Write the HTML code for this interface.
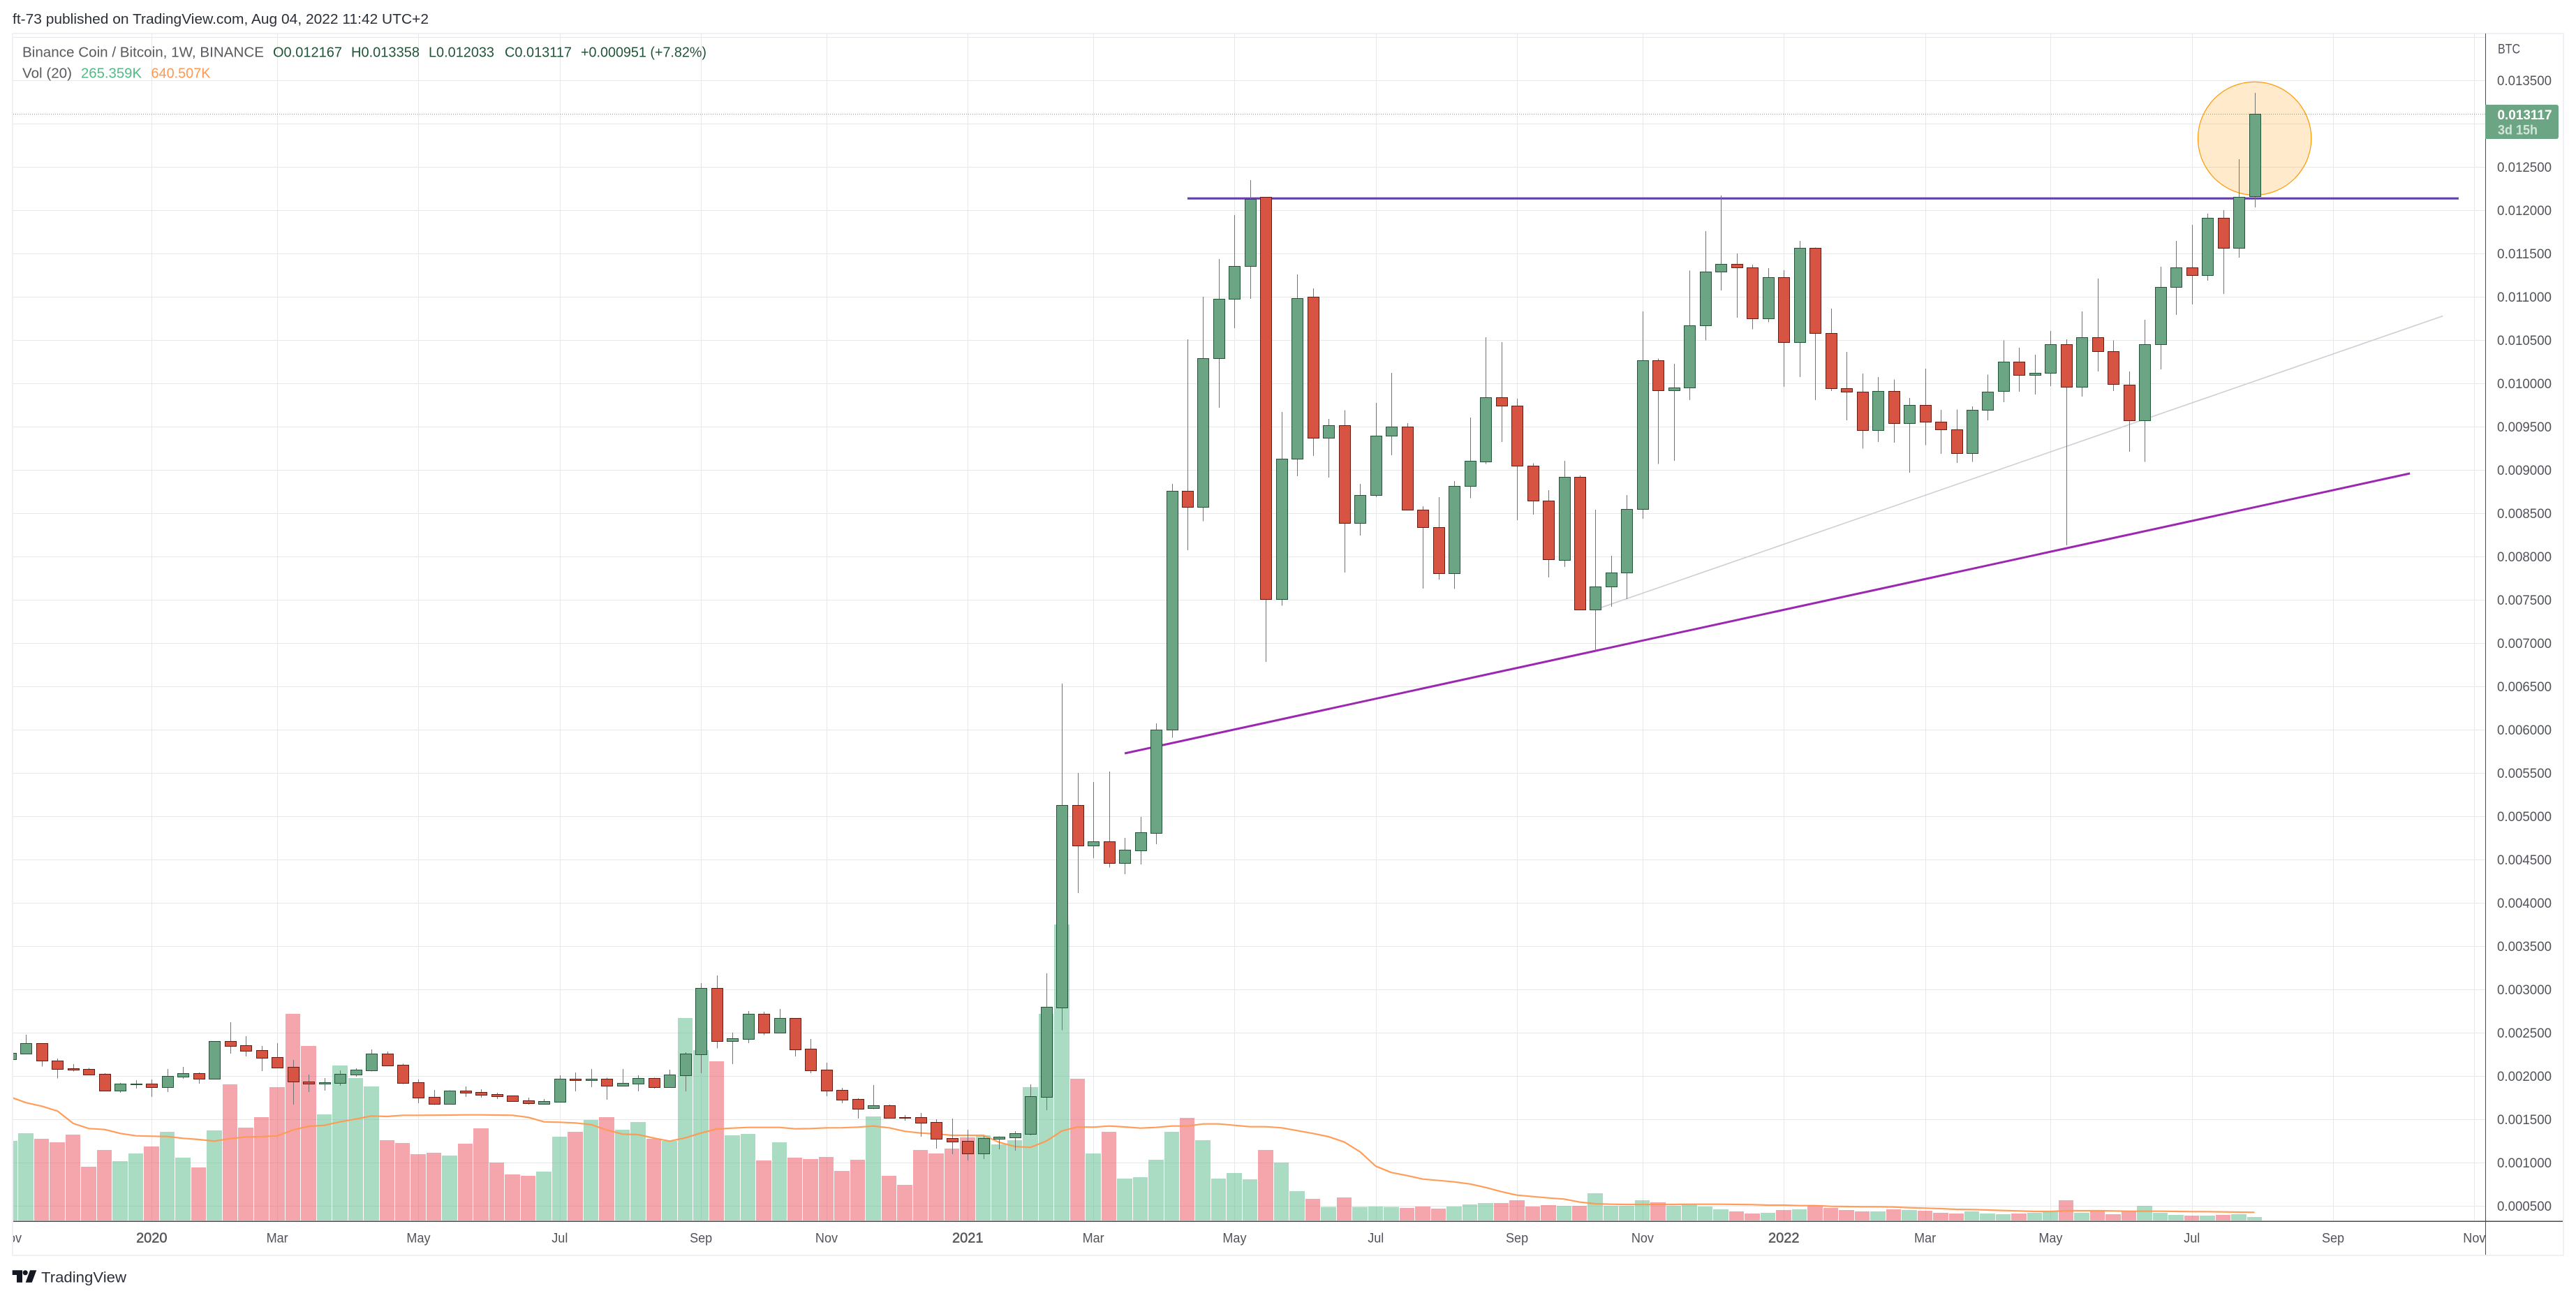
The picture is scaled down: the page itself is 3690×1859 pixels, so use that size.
<!DOCTYPE html>
<html lang="en">
<head>
<meta charset="utf-8">
<title>Binance Coin / Bitcoin, 1W</title>
<style>
html,body{margin:0;padding:0;background:#fff;width:3690px;height:1859px;overflow:hidden}
svg{display:block;font-family:"Liberation Sans",sans-serif}
</style>
</head>
<body>
<svg id="chart" xmlns="http://www.w3.org/2000/svg" width="3690" height="1859" viewBox="0 0 3690 1859">
  <defs>
    <clipPath id="pane-clip"><rect x="19" y="49" width="3541" height="1700"/></clipPath>
    <clipPath id="time-clip"><rect x="19" y="1750" width="3541" height="47"/></clipPath>
  </defs>
  <text x="18" y="34" font-size="20" fill="#2a2e39" textLength="596" lengthAdjust="spacingAndGlyphs">ft-73 published on TradingView.com, Aug 04, 2022 11:42 UTC+2</text>
  <rect x="18" y="48" width="3654" height="1750" fill="none" stroke="#f0f0f6" stroke-width="2"/>
  <g id="grid" shape-rendering="crispEdges"></g>
  <g clip-path="url(#pane-clip)">
    <g id="volume" shape-rendering="crispEdges"></g>
    <g id="drawings"></g>
    <g id="volma"></g>
    <g id="candles" shape-rendering="crispEdges"></g>
  </g>
  <g id="time-labels" clip-path="url(#time-clip)"></g>
  <g id="price-labels"></g>
  <rect x="19" y="1748.5" width="3652" height="1.5" fill="#4a4a4e"/>
  <rect x="3560" y="48" width="1" height="1749" fill="#4a4a4e"/>
  <text x="3578" y="76.7" font-size="19.5" fill="#50535a" textLength="32" lengthAdjust="spacingAndGlyphs">BTC</text>
  <path d="M3560 150H3662a3 3 0 0 1 3 3V196a3 3 0 0 1 -3 3H3560Z" fill="#6ba583"/>
  <text x="3577.5" y="171" font-size="19" font-weight="bold" fill="#fff" textLength="78" lengthAdjust="spacingAndGlyphs">0.013117</text>
  <text x="3578" y="192.7" font-size="19" font-weight="bold" fill="#d3e4da" textLength="57" lengthAdjust="spacingAndGlyphs">3d 15h</text>

  <g font-size="20">
    <text x="32" y="81.7" fill="#5a5a5e" textLength="346" lengthAdjust="spacingAndGlyphs">Binance Coin / Bitcoin, 1W, BINANCE</text>
    <text x="391" y="81.7" fill="#225437" textLength="99" lengthAdjust="spacingAndGlyphs">O0.012167</text>
    <text x="503" y="81.7" fill="#225437" textLength="98" lengthAdjust="spacingAndGlyphs">H0.013358</text>
    <text x="614" y="81.7" fill="#225437" textLength="94" lengthAdjust="spacingAndGlyphs">L0.012033</text>
    <text x="723" y="81.7" fill="#225437" textLength="96" lengthAdjust="spacingAndGlyphs">C0.013117</text>
    <text x="832" y="81.7" fill="#225437" textLength="180" lengthAdjust="spacingAndGlyphs">+0.000951 (+7.82%)</text>
  </g>
  <g font-size="20">
    <text x="32" y="111.7" fill="#5a5a5e" textLength="71" lengthAdjust="spacingAndGlyphs">Vol (20)</text>
    <text x="116" y="111.7" fill="#53b987" textLength="87" lengthAdjust="spacingAndGlyphs">265.359K</text>
    <text x="216.5" y="111.7" fill="#ff9850" textLength="85" lengthAdjust="spacingAndGlyphs">640.507K</text>
  </g>

  <g>
    <path d="M17.7 1819.3H32V1836.7H24V1826H17.7Z" fill="#131722"/>
    <circle cx="36.2" cy="1822.8" r="3.6" fill="#131722"/>
    <path d="M43 1819.3H52.3L45.7 1836.7H36.7Z" fill="#131722"/>
    <text x="59" y="1836.7" font-size="21.5" fill="#2a2e39" textLength="122" lengthAdjust="spacingAndGlyphs">TradingView</text>
  </g>
</svg>

<script>
// Prices are in units of 0.000001 BTC, one entry per weekly bar.
const opens = [2193,2258,2379,2177,2091,2080,2024,1836,1906,1911,
1876,1997,2032,1973,2403,2355,2298,2217,2105,1935,
1916,1924,2021,2070,2258,2129,1927,1758,1682,1830,
1814,1790,1774,1717,1682,1707,1970,1957,1967,1892,
1916,1975,1876,2013,2255,3016,2408,2432,2717,2505,
2669,2314,2072,1838,1734,1634,1661,1527,1524,1467,
1282,1250,1110,1279,1296,1336,1763,2795,5135,4660,
4709,4465,4610,4811,5999,8764,8571,10291,10982,11360,
12154,7513,9134,11002,9377,9521,8386,8715,9394,9505,
8546,8344,7805,8814,9102,9838,9748,9048,8645,7966,
8925,7386,7653,7814,8554,10266,9924,9957,10669,11290,
11385,11344,10755,11225,10476,11570,10587,9949,9908,9459,
9916,9546,9756,9562,9468,9192,9698,9916,10249,10101,
10126,10451,9966,10537,10377,9990,9579,10451,11118,11344,
11249,11912,11570,12167];
const highs = [2306,2478,2379,2204,2139,2096,2035,1922,1954,1962,
2083,2107,2043,2403,2623,2462,2349,2381,2188,2018,
1978,2067,2091,2309,2285,2145,1962,1841,1838,1881,
1849,1809,1774,1752,1736,2010,2043,2083,1984,2083,
2010,1984,2075,2277,3075,3164,2502,2752,2744,2777,
2669,2430,2156,1865,1744,1898,1672,1551,1575,1502,
1510,1381,1309,1306,1365,1906,3188,6536,5502,5397,
5518,4752,4993,6076,8842,10509,11002,11439,11945,12348,
12154,9673,11262,11101,9591,9690,8842,9776,10122,9542,
8583,8686,8875,9608,10533,10480,9826,9081,8768,9106,
8937,8542,8011,8711,10834,10287,10229,11303,11760,12171,
11504,11373,11332,11307,11648,11570,10867,10365,10114,10077,
10048,9834,10171,9694,9702,9735,10105,10500,10414,10332,
10607,10509,10834,11212,10500,10138,10735,11348,11648,11834,
11961,12002,12591,13358];
const lows = [2172,2258,2110,1973,2053,2010,1828,1809,1857,1760,
1817,1970,1914,1965,2260,2228,2059,2094,1672,1817,
1833,1890,1994,2053,2118,1908,1688,1666,1674,1760,
1752,1736,1715,1672,1682,1699,1825,1873,1728,1884,
1825,1857,1868,1825,2035,2320,2139,2381,2473,2505,
2228,2035,1769,1688,1510,1618,1518,1486,1301,1164,
1099,1027,1043,1156,1139,1317,1607,2530,4116,4518,
4410,4332,4447,4678,5910,8077,8410,9719,10640,10978,
6785,7435,8929,9163,8912,7818,8246,8686,9172,8546,
7633,7736,7628,8674,9069,9324,8423,8488,7760,7880,
7386,6908,7423,7509,8439,9069,9106,9809,10500,11076,
10760,10628,10710,9961,10077,9809,9912,9575,9250,9324,
9315,8970,9287,9188,9085,9097,9575,9785,9904,9875,
9970,8131,9850,10138,9912,9213,9097,10163,10793,10912,
11188,11035,11455,12033];
const closes = [2266,2379,2177,2086,2078,2021,1836,1911,1911,1876,
2000,2032,1973,2403,2352,2295,2215,2102,1941,1916,
1927,2024,2072,2258,2126,1924,1755,1682,1830,1812,
1787,1771,1715,1691,1709,1967,1957,1970,1892,1919,
1975,1876,2016,2258,3016,2408,2435,2717,2505,2669,
2312,2070,1836,1731,1626,1661,1521,1521,1465,1279,
1247,1110,1282,1298,1338,1766,2798,5135,4660,4709,
4465,4613,4814,5999,8764,8571,10291,10982,11360,12134,
7513,9134,10990,9377,9521,8386,8715,9394,9505,8546,
8344,7805,8814,9110,9838,9748,9048,8645,7974,8925,
7386,7653,7814,8554,10266,9924,9957,10669,11290,11385,
11344,10755,11225,10476,11570,10587,9949,9908,9459,9916,
9546,9756,9562,9468,9192,9698,9908,10249,10101,10126,
10451,9966,10537,10377,9998,9579,10451,11118,11344,11249,
11912,11570,12159,13117];
// Volume and its 20-bar average, in thousands.
const volumes = [6242,6844,6406,6132,6734,4216,5530,4654,5256,5804,
6953,4928,4161,7063,10676,7282,8103,10457,16206,13688,
8322,12155,11169,10512,6296,6077,5201,5311,5092,6023,
7227,4544,3614,3504,3833,6570,6953,7884,8103,7118,
7720,6406,6242,15878,13359,12483,6680,6789,4709,6132,
4928,4818,4982,3887,4763,8158,3504,2792,5530,5256,
5639,6515,6680,5968,6296,10457,16206,23214,11114,5256,
6953,3285,3395,4763,6953,8048,6296,3285,3723,3230,
5530,4544,2300,1697,1059,1807,1059,1095,1059,986,
1095,931,1095,1259,1369,1369,1588,1095,1205,1150,
1150,2135,1150,1150,1588,1424,1150,1259,1095,876,
712,548,602,821,876,1205,986,821,712,712,
876,821,767,602,548,712,548,493,548,602,
712,1588,602,767,493,712,1150,602,438,383,
383,438,493,265];
const volumeMA = [9673,9235,8961,8578,7610,7209,7136,6826,6643,6607,
6588,6442,6351,6223,6424,6552,6570,6643,7099,7391,
7464,7738,7957,8194,8158,8249,8249,8258,8267,8286,
8286,8267,8249,8085,7738,7702,7647,7519,7099,6771,
6734,6461,6223,6479,6862,7172,7245,7300,7300,7300,
7191,7209,7264,7272,7318,7410,7264,6990,6862,6789,
6680,6680,6680,6132,5804,5731,6223,7026,7337,7318,
7410,7337,7245,7300,7410,7410,7574,7574,7464,7355,
7355,7264,7045,6826,6570,6150,5384,4252,3760,3522,
3249,3139,3030,2865,2592,2263,1989,1880,1770,1679,
1442,1314,1278,1259,1259,1259,1259,1278,1278,1278,
1259,1241,1205,1205,1168,1168,1113,1095,1077,1077,
1059,1004,967,931,876,858,821,785,748,712,
712,767,767,767,748,730,730,730,712,694,
694,675,657,640.5];
// Axis ticks.
const priceTickValues = [14000,13500,13000,12500,12000,11500,11000,10500,10000,9500,9000,8500,8000,7500,7000,6500,6000,5500,5000,4500,4000,3500,3000,2500,2000,1500,1000,500];
const priceTickLabels = ["","0.013500","0.013000","0.012500","0.012000","0.011500","0.011000","0.010500","0.010000","0.009500","0.009000","0.008500","0.008000","0.007500","0.007000","0.006500","0.006000","0.005500","0.005000","0.004500","0.004000","0.003500","0.003000","0.002500","0.002000","0.001500","0.001000","0.000500"];
const timeTickBars = [0,9,17,26,35,44,52,61,69,78,87,96,104,113,122,130,139,148,157];
const timeTickLabels = ["Nov","2020","Mar","May","Jul","Sep","Nov","2021","Mar","May","Jul","Sep","Nov","2022","Mar","May","Jul","Sep","Nov"];
// Hand-drawn objects, in bar index and price units.
const resistanceBars = [75,156];
const resistancePrices = [12138,12138];
const supportBars = [71,152.9];
const supportPrices = [5728,8962];
const midlineBars = [101,155];
const midlinePrices = [7390,10781];
const highlightBar = 143;
const highlightBarRadius = 3.61;
const highlightPrices = [13484,12177];

function xScale(bar){ return 15 + 22.48 * bar; }
function yScale(price){ return 115.3 + (13500 - price) * 62 / 500; }
function volScale(vol){ return 1748 - vol / 54.75; }

const NS = 'http://www.w3.org/2000/svg';
function make(tag, attrs, parent){
  const node = document.createElementNS(NS, tag);
  for (const key in attrs) node.setAttribute(key, attrs[key]);
  parent.appendChild(node);
  return node;
}
function crisp(v){ return Math.round(v) + 0.5; }

const gridLayer = document.getElementById('grid');
const volumeLayer = document.getElementById('volume');
const drawingLayer = document.getElementById('drawings');
const maLayer = document.getElementById('volma');
const candleLayer = document.getElementById('candles');
const priceLabelLayer = document.getElementById('price-labels');
const timeLabelLayer = document.getElementById('time-labels');

priceTickValues.forEach(function(value, i){
  const y = crisp(yScale(value));
  const line = make('line', {x1:19, x2:3560, y1:y, y2:y, stroke:'#e7e8ea', 'stroke-width':1}, gridLayer);
  
  
  if (priceTickLabels[i]) {
    const label = make('text', {x:3577, y:yScale(value) + 6.7, 'font-size':19, fill:'#50535a', textLength:78, lengthAdjust:'spacingAndGlyphs'}, priceLabelLayer);
    label.textContent = priceTickLabels[i];
    
    
  }
});

timeTickBars.forEach(function(bar, i){
  const x = xScale(bar);
  const px = crisp(x);
  if (px > 19) {
    const line = make('line', {x1:px, x2:px, y1:49, y2:1748, stroke:'#e7e8ea', 'stroke-width':1}, gridLayer);
    
    
  }
  const isYear = /^\d/.test(timeTickLabels[i]);
  const label = make('text', {x:x, y:1779.5, 'text-anchor':'middle', 'font-size':isYear ? 20 : 19, fill:isYear ? '#55555a' : '#50535a', stroke:isYear ? '#55555a' : 'none', 'stroke-width':isYear ? 0.45 : 0}, timeLabelLayer);
  label.textContent = timeTickLabels[i];
  
  
  if (!isYear) {
    label.setAttribute('textLength', (label.getComputedTextLength() * 0.95).toFixed(1));
    label.setAttribute('lengthAdjust', 'spacingAndGlyphs');
  }
});

const lastPriceLine = make('line', {x1:19, x2:3560, y1:crisp(yScale(closes[closes.length - 1])), y2:crisp(yScale(closes[closes.length - 1])), stroke:'#6ba583', 'stroke-width':1, 'stroke-dasharray':'1 2'}, gridLayer);



volumes.forEach(function(vol, i){
  const up = closes[i] >= opens[i];
  const left = Math.round(xScale(i) - 11);
  const right = Math.round(xScale(i + 1) - 11) - 1;
  const top = volScale(vol);
  const bar = make('rect', {x:left, y:top, width:right - left, height:1748 - top, fill:up ? '#53b987' : '#eb4d5c', 'fill-opacity':0.5}, volumeLayer);
  
  
});

const maPath = volumeMA.map(function(v, i){
  return (i ? 'L' : 'M') + xScale(i).toFixed(1) + ' ' + volScale(v).toFixed(1);
}).join('');
const maLine = make('path', {d:maPath, fill:'none', stroke:'#ff9850', 'stroke-width':2.2, 'stroke-opacity':0.95, 'stroke-linejoin':'round'}, maLayer);



const highlight = make('ellipse', {
  cx:xScale(highlightBar),
  cy:(yScale(highlightPrices[0]) + yScale(highlightPrices[1])) / 2,
  rx:highlightBarRadius * 22.48,
  ry:(yScale(highlightPrices[1]) - yScale(highlightPrices[0])) / 2,
  fill:'#ff9800', 'fill-opacity':0.2, stroke:'#ff9800', 'stroke-width':1.2
}, drawingLayer);



const midline = make('line', {x1:xScale(midlineBars[0]), x2:xScale(midlineBars[1]), y1:yScale(midlinePrices[0]), y2:yScale(midlinePrices[1]), stroke:'#cdced6', 'stroke-width':1.6}, drawingLayer);



const support = make('line', {x1:xScale(supportBars[0]), x2:xScale(supportBars[1]), y1:yScale(supportPrices[0]), y2:yScale(supportPrices[1]), stroke:'#9c27b0', 'stroke-width':3}, drawingLayer);



const resistance = make('line', {x1:xScale(resistanceBars[0]), x2:xScale(resistanceBars[1]), y1:yScale(resistancePrices[0]), y2:yScale(resistancePrices[1]), stroke:'#673ab7', 'stroke-width':3.2}, drawingLayer);



opens.forEach(function(open, i){
  const close = closes[i];
  const up = close >= open;
  const cx = Math.round(xScale(i));
  const wick = make('rect', {x:cx, y:yScale(highs[i]), width:1, height:yScale(lows[i]) - yScale(highs[i]), fill:'#737375'}, candleLayer);
  
  
  const top = crisp(yScale(Math.max(open, close)));
  const bottom = crisp(yScale(Math.min(open, close)));
  const body = make('rect', {x:cx - 7.5, y:top, width:16, height:Math.max(bottom - top, 1), fill:up ? '#6ba583' : '#d75442', stroke:up ? '#225437' : '#6b1a12', 'stroke-width':1}, candleLayer);
  
  
});
</script>
</body>
</html>
